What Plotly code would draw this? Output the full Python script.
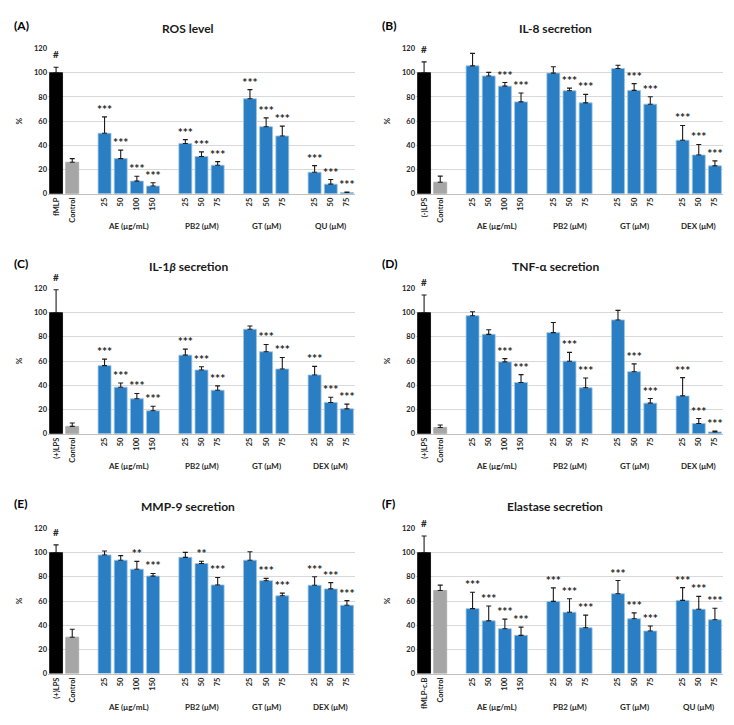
"""Six-panel bar chart: ROS / cytokine / enzyme secretion (% of stimulated control)."""
import plotly.graph_objects as go
from plotly.subplots import make_subplots

# ---- data -------------------------------------------------------------
AE_DOSES = ["25", "50", "100", "150"]
UM_DOSES = ["25", "50", "75"]

A_TITLE = "ROS level"
A_CTRL = ["fMLP", "Control"]
A_GROUPS = ["AE (μg/mL)", "PB2 (μM)", "GT (μM)", "QU (μM)"]
A_VALS = [100, 26, 50, 29, 10.4, 6.3, 41.5, 30.8, 23.5, 78.5, 55.4, 47.7, 17.7, 7.9, 1.0]
A_ERRS = [4.5, 3.0, 13.5, 7.0, 4.0, 2.7, 3.2, 3.8, 3.0, 7.5, 7.3, 8.2, 5.5, 3.8, 0.3]
A_SIG = ["#", "", "***", "***", "***", "***", "***", "***", "***", "***", "***", "***", "***", "***", "***"]

B_TITLE = "IL-8 secretion"
B_CTRL = ["(-)LPS", "Control"]
B_GROUPS = ["AE (μg/mL)", "PB2 (μM)", "GT (μM)", "DEX (μM)"]
B_VALS = [100, 9.5, 105.7, 97.3, 88.9, 75.9, 99.7, 85.1, 75.1, 103.5, 85.4, 74.0, 44.2, 32.0, 23.0]
B_ERRS = [9.0, 5.0, 10.3, 3.0, 3.0, 7.3, 5.2, 2.2, 7.0, 2.7, 5.6, 6.2, 12.2, 8.7, 4.1]
B_SIG = ["#", "", "", "", "***", "***", "", "***", "***", "", "***", "***", "***", "***", "***"]

C_TITLE = "IL-1<i>β</i> secretion"
C_CTRL = ["(+)LPS", "Control"]
C_GROUPS = ["AE (μg/mL)", "PB2 (μM)", "GT (μM)", "DEX (μM)"]
C_VALS = [100, 6.0, 56.2, 38.4, 28.8, 18.9, 64.9, 52.6, 35.9, 86.3, 67.7, 53.4, 48.5, 25.8, 20.5]
C_ERRS = [19.0, 2.8, 5.4, 3.5, 4.4, 3.8, 5.0, 2.7, 3.6, 2.7, 6.0, 9.6, 7.1, 4.3, 3.9]
C_SIG = ["#", "", "***", "***", "***", "***", "***", "***", "***", "", "***", "***", "***", "***", "***"]

D_TITLE = "TNF-α secretion"
D_CTRL = ["(+)LPS", "Control"]
D_GROUPS = ["AE (μg/mL)", "PB2 (μM)", "GT (μM)", "DEX (μM)"]
D_VALS = [100, 5.1, 97.5, 82.1, 59.3, 42.3, 83.5, 59.9, 37.9, 94.0, 51.2, 25.2, 31.2, 8.4, 1.4]
D_ERRS = [14.6, 2.0, 3.3, 3.8, 2.7, 6.5, 8.4, 7.3, 8.1, 7.9, 6.5, 3.8, 15.1, 4.1, 0.8]
D_SIG = ["#", "", "", "", "***", "***", "", "***", "***", "", "***", "***", "***", "***", "***"]

E_TITLE = "MMP-9 secretion"
E_CTRL = ["(+)LPS", "Control"]
E_GROUPS = ["AE (μg/mL)", "PB2 (μM)", "GT (μM)", "DEX (μM)"]
E_VALS = [100, 30.1, 98.0, 93.7, 86.3, 80.6, 96.1, 91.0, 73.3, 93.7, 76.8, 64.3, 73.0, 70.0, 56.5]
E_ERRS = [6.4, 6.5, 3.3, 3.8, 6.5, 2.2, 4.1, 1.9, 6.2, 7.0, 1.9, 2.2, 7.1, 5.2, 3.8]
E_SIG = ["#", "", "", "", "**", "***", "", "**", "***", "", "***", "***", "***", "***", "***"]

F_TITLE = "Elastase secretion"
F_CTRL = ["fMLP-c.B", "Control"]
F_GROUPS = ["AE (μg/mL)", "PB2 (μM)", "GT (μM)", "QU (μM)"]
F_VALS = [100, 68.7, 53.7, 43.6, 37.1, 31.6, 59.7, 50.7, 37.9, 66.0, 45.3, 35.2, 60.5, 53.2, 44.5]
F_ERRS = [13.7, 4.4, 13.6, 12.3, 7.9, 6.8, 11.2, 11.2, 10.4, 10.9, 4.9, 4.1, 10.6, 10.6, 9.5]
F_SIG = ["#", "", "***", "***", "***", "***", "***", "***", "***", "***", "***", "***", "***", "***", "***"]

PANELS = [
    ("(A)", A_TITLE, A_CTRL, A_GROUPS, A_VALS, A_ERRS, A_SIG),
    ("(B)", B_TITLE, B_CTRL, B_GROUPS, B_VALS, B_ERRS, B_SIG),
    ("(C)", C_TITLE, C_CTRL, C_GROUPS, C_VALS, C_ERRS, C_SIG),
    ("(D)", D_TITLE, D_CTRL, D_GROUPS, D_VALS, D_ERRS, D_SIG),
    ("(E)", E_TITLE, E_CTRL, E_GROUPS, E_VALS, E_ERRS, E_SIG),
    ("(F)", F_TITLE, F_CTRL, F_GROUPS, F_VALS, F_ERRS, F_SIG),
]
GROUP_DOSES = [AE_DOSES, UM_DOSES, UM_DOSES, UM_DOSES]

# ---- style --------------------------------------------------------------
# the page body keeps its default 8px margin, so the figure is drawn 8px in
OFF = 8
W, H = 734 - OFF, 725 - OFF
FONT = "Lato"
BLUE = "#2A7EC3"
BAR_COLORS = ["#000000", "#A6A6A6"]
X_DOM = [(48, 355), (416, 723)]        # pixel spans of the plot areas (window coords)
Y_DOM = [(45, 192), (288, 435), (531, 678)]
TITLE_Y = [25, 266, 509]
LETTER_Y = [22, 263, 506]
GROUP_Y = [225, 468, 712]


def px_x(v):
    return (v - OFF) / W


def px_y(v):
    return 1 - (v - OFF) / H


def layout_slots(group_sizes):
    """Bar positions: two controls, then each group preceded by one empty slot."""
    pos = [0, 1]
    centers = []
    cur = 2
    for n in group_sizes:
        cur += 1
        pos += list(range(cur, cur + n))
        centers.append(cur + (n - 1) / 2)
        cur += n
    return pos, centers, cur


fig = make_subplots(rows=3, cols=2)
annotations = []

for i, (letter, title, ctrl, groups, vals, errs, sig) in enumerate(PANELS):
    row, col = i // 2 + 1, i % 2 + 1
    xpos, centers, nslots = layout_slots([len(d) for d in GROUP_DOSES])
    ticks = ctrl + [d for doses in GROUP_DOSES for d in doses]
    colors = BAR_COLORS + [BLUE] * (len(vals) - 2)
    line_cols = ["#000000", "#A6A6A6"] + ["#9CC3E5"] * (len(vals) - 2)
    tops = [v + e for v, e in zip(vals, errs)]
    xref = "x" if i == 0 else f"x{i + 1}"
    yref = "y" if i == 0 else f"y{i + 1}"

    fig.add_trace(go.Bar(
        x=xpos, y=vals, width=0.8,
        marker=dict(color=colors, line=dict(color=line_cols, width=0.8)),
        error_y=dict(type="data", array=errs, arrayminus=[0] * len(errs),
                     symmetric=False, color="#1B1B1B", thickness=1.1, width=2.5),
        showlegend=False,
    ), row=row, col=col)

    # significance stars sit just above the error bar caps
    stars = [s if s != "#" else "" for s in sig]
    fig.add_trace(go.Scatter(
        x=xpos, y=tops, mode="text",
        text=stars, textposition="top center", cliponaxis=False,
        textfont=dict(family=FONT, size=12, color="#262626", weight=700),
        showlegend=False, hoverinfo="skip",
    ), row=row, col=col)

    # '#' marks stand a little higher than the stars
    for xp, tp, s in zip(xpos, tops, sig):
        if s == "#":
            annotations.append(dict(
                text="<b>#</b>", xref=xref, yref=yref, x=xp, y=tp,
                yanchor="bottom", yshift=5, showarrow=False,
                font=dict(family=FONT, size=10, color="#262626"),
            ))

    x0, x1 = X_DOM[col - 1]
    ytop, ybot = Y_DOM[row - 1]
    fig.update_xaxes(
        domain=[px_x(x0), px_x(x1)], range=[-0.5, nslots - 0.5],
        tickmode="array", tickvals=xpos, ticktext=ticks, tickangle=-90,
        tickfont=dict(family=FONT, size=7.5, color="#262626", weight=700),
        showgrid=False, zeroline=False, showline=True, linecolor="#BFBFBF",
        linewidth=1, ticks="", row=row, col=col,
    )
    fig.update_yaxes(
        domain=[px_y(ybot), px_y(ytop)], range=[0, 120], dtick=20,
        tickfont=dict(family=FONT, size=7.5, color="#262626", weight=700),
        showgrid=True, gridcolor="#D9D9D9", gridwidth=1, zeroline=False,
        showline=False, ticks="", title=dict(text="%", standoff=10,
        font=dict(family=FONT, size=8, color="#262626", weight=700)),
        row=row, col=col,
    )

    annotations.append(dict(
        text=f"<b>{title}</b>", xref="paper", yref="paper",
        x=px_x(188 if col == 1 else 555), y=px_y(TITLE_Y[row - 1]),
        xanchor="center", yanchor="middle", showarrow=False,
        font=dict(family=FONT, size=12, color="#1A1A1A"),
    ))
    annotations.append(dict(
        text=f"<b>{letter}</b>", xref="paper", yref="paper",
        x=px_x(12 if col == 1 else 380), y=px_y(LETTER_Y[row - 1]),
        xanchor="left", yanchor="middle", showarrow=False,
        font=dict(family=FONT, size=12, color="#000000"),
    ))
    for gname, gx in zip(groups, centers):
        annotations.append(dict(
            text=f"<b>{gname}</b>", xref=xref, yref="paper",
            x=gx, y=px_y(GROUP_Y[row - 1]),
            xanchor="center", yanchor="middle", showarrow=False,
            font=dict(family=FONT, size=8, color="#262626"),
        ))

fig.update_layout(
    width=W, height=H,
    margin=dict(l=0, r=0, t=0, b=0),
    paper_bgcolor="white", plot_bgcolor="white",
    bargap=0.2,
    annotations=annotations,
    font=dict(family=FONT),
)

fig.write_html("out.html")
